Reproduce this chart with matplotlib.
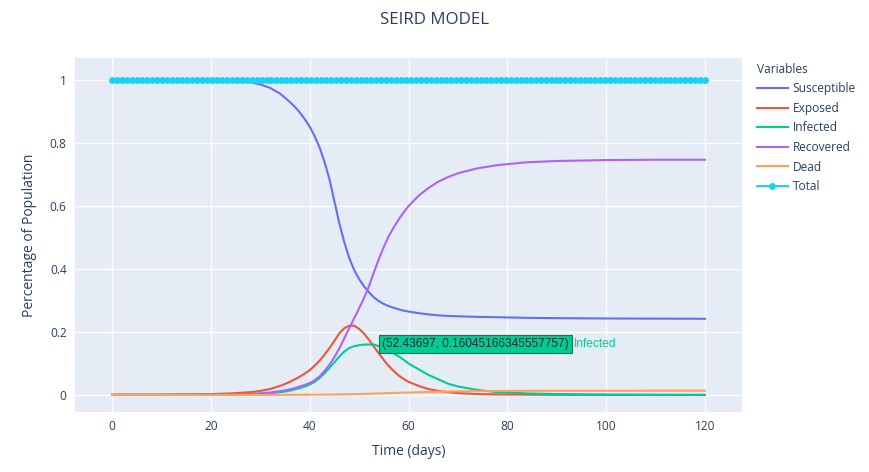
import numpy as np
import matplotlib
matplotlib.use("Agg")
import matplotlib.pyplot as plt
from matplotlib.lines import Line2D

# values
days = ([0, 10, 20, 24, 28, 30, 32]
        + list(range(34, 61))
        + [62, 64, 66, 68, 70, 74, 78, 84, 90, 100, 110, 120])
susceptible = ([1.0, 1.0, 0.999, 0.997, 0.993, 0.986, 0.975]
               + [0.957, 0.944, 0.93, 0.915, 0.897, 0.876, 0.852, 0.822, 0.786,
                  0.74, 0.685, 0.615, 0.545, 0.485, 0.435, 0.397, 0.368, 0.345, 0.326,
                  0.31, 0.298, 0.289, 0.282, 0.277, 0.272, 0.268, 0.265]
               + [0.26, 0.256, 0.253, 0.251, 0.25, 0.248, 0.247, 0.245, 0.244,
                  0.243, 0.2425, 0.242])
exposed = ([0.001, 0.001, 0.003, 0.005, 0.009, 0.013, 0.019]
           + [0.029, 0.035, 0.042, 0.05, 0.058, 0.068, 0.079, 0.093, 0.109,
              0.128, 0.149, 0.172, 0.196, 0.212, 0.22, 0.22, 0.21, 0.195, 0.175,
              0.153, 0.132, 0.111, 0.092, 0.076, 0.062, 0.051, 0.042]
           + [0.029, 0.019, 0.013, 0.009, 0.006, 0.003, 0.002, 0.001, 0.0005,
              0.0002, 0.0001, 0.0])
infected = ([0.0005, 0.0007, 0.001, 0.002, 0.003, 0.004, 0.006]
            + [0.009, 0.011, 0.014, 0.018, 0.022, 0.027, 0.033, 0.042, 0.054,
               0.069, 0.086, 0.104, 0.122, 0.138, 0.149, 0.155, 0.158, 0.16, 0.1605,
               0.16, 0.155, 0.148, 0.14, 0.132, 0.123, 0.112, 0.1]
            + [0.082, 0.064, 0.05, 0.036, 0.027, 0.016, 0.009, 0.005, 0.003,
               0.0015, 0.0008, 0.0005])
recovered = ([0.0, 0.0005, 0.001, 0.002, 0.003, 0.005, 0.008]
             + [0.012, 0.015, 0.018, 0.022, 0.027, 0.032, 0.038, 0.047, 0.059,
                0.076, 0.096, 0.12, 0.148, 0.18, 0.212, 0.244, 0.275, 0.308, 0.346,
                0.39, 0.432, 0.47, 0.505, 0.532, 0.557, 0.58, 0.6]
             + [0.632, 0.657, 0.677, 0.692, 0.704, 0.72, 0.73, 0.739, 0.743,
                0.746, 0.747, 0.747])
dead = ([0.0, 0.0, 0.0001, 0.0002, 0.0003, 0.0003, 0.0004]
        + [0.0005, 0.00055, 0.0006, 0.00065, 0.0007, 0.0008, 0.0009, 0.001, 0.0012,
           0.0013, 0.0015, 0.0017, 0.002, 0.0022, 0.0025, 0.0028, 0.003, 0.0035, 0.004,
           0.0045, 0.005, 0.0055, 0.006, 0.0065, 0.007, 0.0075, 0.008]
        + [0.0088, 0.0095, 0.0102, 0.011, 0.0115, 0.0122, 0.0128, 0.0132, 0.0134,
           0.0135, 0.0136, 0.0136])
total_days = np.linspace(0, 120, 120)
total = [1.0] * len(total_days)

hover_x, hover_y = 52.43697, 0.16045166345557757

TXT = "#2a3f5f"
COLORS = ["#636EFA", "#EF553B", "#00CC96", "#AB63FA", "#FFA15A", "#19D3F3"]
LABELS = ["Susceptible", "Exposed", "Infected", "Recovered", "Dead", "Total"]

plt.rcParams["font.family"] = ["Open Sans", "DejaVu Sans"]

fig = plt.figure(figsize=(8.69, 4.72), dpi=100)
ax = fig.add_axes([0.0863, 0.1271, 0.7676, 0.75])
ax.set_facecolor("#E5ECF6")
for s in ax.spines.values():
    s.set_visible(False)

series = [susceptible, exposed, infected, recovered, dead]
for vals, c in zip(series, COLORS):
    ax.plot(days, vals, color=c, lw=1.5, solid_joinstyle="round")
ax.plot(total_days, total, color=COLORS[5], lw=1.5, marker="o", ms=5,
        markeredgewidth=0)

ax.set_xlim(-7.5, 127.5)
ax.set_ylim(-0.054, 1.07)
ax.set_xticks(range(0, 121, 20))
ax.set_yticks([0, 0.2, 0.4, 0.6, 0.8, 1.0])
ax.set_yticklabels(["0", "0.2", "0.4", "0.6", "0.8", "1"])
ax.grid(color="white", lw=1)
ax.set_axisbelow(True)
ax.tick_params(length=0, labelsize=8.6, labelcolor=TXT, pad=6)

ax.set_xlabel("Time (days)", fontsize=10, color=TXT, labelpad=8)
ax.set_ylabel("Percentage of Population", fontsize=10, color=TXT, labelpad=9)
fig.text(0.5, 1 - 20 / 472, "SEIRD MODEL", ha="center", va="center",
         fontsize=12.2, color=TXT)

# hover label for the infected peak
ax.annotate(f"({hover_x}, {hover_y})", xy=(hover_x, hover_y),
            xytext=(8, 0), textcoords="offset points", va="center", ha="left",
            fontsize=8.6, color="#1f2a33", family=["Liberation Sans", "DejaVu Sans"],
            bbox=dict(boxstyle="square,pad=0.25", fc=COLORS[2], ec="#007a5a", lw=0.8))
ax.annotate("Infected", xy=(hover_x, hover_y), xytext=(146, 0),
            textcoords="offset points", va="center", ha="left", fontsize=8.6,
            color=COLORS[2], family=["Liberation Sans", "DejaVu Sans"])

handles = [Line2D([], [], color=c, lw=1.5) for c in COLORS[:5]]
handles.append(Line2D([], [], color=COLORS[5], lw=1.5, marker="o", ms=5,
                      markeredgewidth=0))
leg = fig.legend(handles, LABELS, loc="upper left",
                 bbox_to_anchor=(752 / 869, 1 - 58 / 472), frameon=False,
                 title="Variables", alignment="left", fontsize=8.6,
                 title_fontsize=8.6, handlelength=2.6, handletextpad=0.4,
                 labelspacing=0.55, borderaxespad=0)
for t in leg.get_texts():
    t.set_color(TXT)
leg.get_title().set_color(TXT)

fig.savefig("out.png", dpi=100)
